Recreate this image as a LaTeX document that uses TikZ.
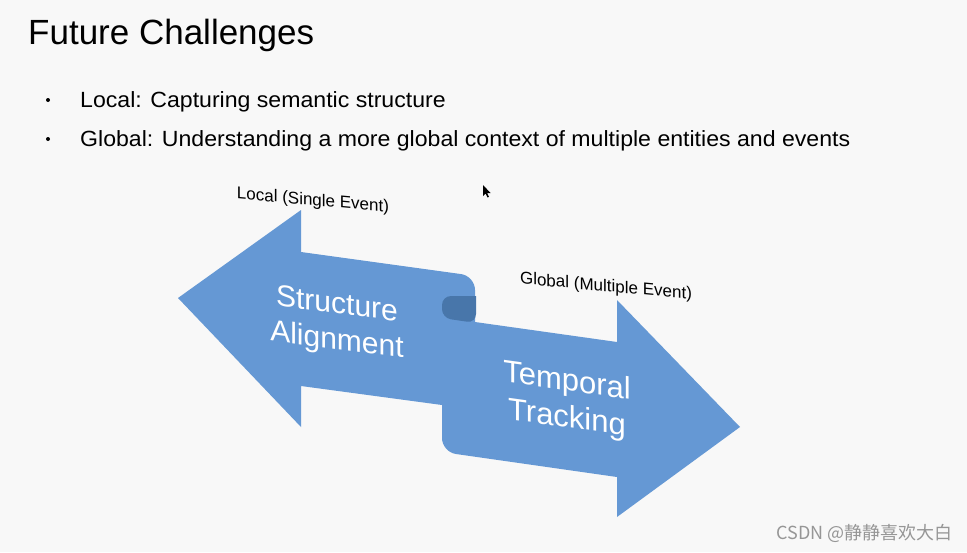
\documentclass[tikz,border=0pt]{standalone}
\usepackage{fontspec}
\setmainfont{Liberation Sans}
\newfontfamily\cjk{Noto Sans CJK SC}
\definecolor{arrowblue}{RGB}{101,152,212}
\definecolor{folddark}{RGB}{72,118,170}
\definecolor{bgcol}{RGB}{248,248,248}
\definecolor{wmgray}{RGB}{150,150,150}
\tikzset{
  titletext/.style={anchor=base west, inner sep=0pt, font=\fontsize{35}{42}\selectfont},
  bullettext/.style={anchor=base west, inner sep=0pt, xscale=1.05, font=\fontsize{22}{26}\selectfont},
  bulletdot/.style={fill=black, circle, inner sep=0pt, minimum size=4pt},
  labeltext/.style={inner sep=0pt, font=\fontsize{17}{20}\selectfont, yslant=-0.09},
  arrowtext/.style={text=white, align=center, inner sep=0pt, font=\fontsize{30}{36}\selectfont},
  ribbon/.style={fill=arrowblue},
}
\begin{document}
\begin{tikzpicture}[x=1pt,y=-1pt]
\useasboundingbox (0,0) rectangle (967,552);
\fill[bgcol] (0,0) rectangle (967,552);

% title and bullets
\node[titletext] (title) at (28,44) {Future Challenges};
\node[bulletdot] (b1) at (48,100) {};
\node[bulletdot] (b2) at (48,139) {};
\node[bullettext] (l1) at (80,107.5) {Local: Capturing semantic structure};
\node[bullettext] (l2) at (80,146) {Global: Understanding a more global context of multiple entities and events};

% ribbon double arrow
\path[ribbon]
  (178,298) -- (301,210) -- (301,252)
  [rounded corners=14pt] -- (475,276) [sharp corners] -- (475,322)
  -- (617,342) -- (617,300) -- (740,427) -- (617,517) -- (617,477)
  [rounded corners=14pt] -- (442,452) [sharp corners] -- (442,405)
  -- (301,386) -- (301,427) -- cycle;
% dark fold
\fill[folddark, rounded corners=9pt] (476,296) -- (442,296) -- (442,318) -- (476,323) [sharp corners] -- cycle;

\node[arrowtext, yslant=-0.13] (sa) at (337,324) {Structure\\Alignment};
\node[arrowtext, yslant=-0.14, font=\fontsize{31}{37}\selectfont] (tt) at (567,401) {Temporal\\Tracking};

\node[labeltext] (loc) at (313,201) {Local (Single Event)};
\node[labeltext] (glob) at (606,287) {Global (Multiple Event)};

% mouse cursor
\fill[black] (483,185) -- (483,196) -- (485.5,193.5) -- (487.5,197.5) -- (489,196.8) -- (487,193) -- (490.5,193) -- cycle;

% watermark
\node[anchor=east, inner sep=0pt, text=wmgray, font=\cjk\fontsize{18}{21}\selectfont] (wm) at (953,533) {CSDN @静静喜欢大白};
\end{tikzpicture}
\end{document}
